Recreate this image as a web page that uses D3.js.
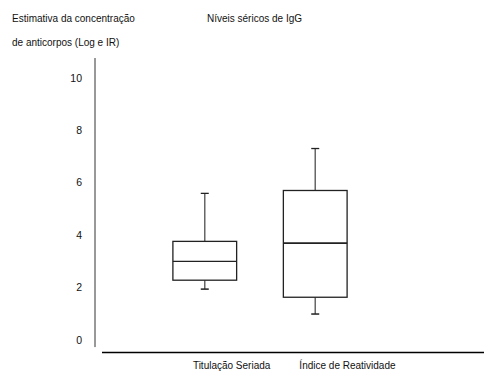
<!DOCTYPE html>
<html><head><meta charset="utf-8">
<script src="https://cdn.jsdelivr.net/npm/d3@7"></script>
<style>
body{margin:0;background:#fff;}
text{font-family:"Liberation Sans",Arial,sans-serif;fill:#111;}
</style></head>
<body><svg id="c" width="484" height="372"></svg>
<script>
const categories = ["Titulação Seriada", "Índice de Reatividade"];
const whiskerLow  = [1.94, 0.99];
const q1          = [2.28, 1.63];
const medians     = [3.00, 3.69];
const q3          = [3.76, 5.70];
const whiskerHigh = [5.59, 7.30];
const yTicks = [0, 2, 4, 6, 8, 10];

const svg = d3.select("#c");
const y = d3.scaleLinear().domain([0, 10]).range([340, 77.7]);
const x = d3.scaleBand().domain(categories).range([150.8, 369.2]).paddingInner(0.423).paddingOuter(0.2);
const bw = x.bandwidth();

// Titles
svg.append("text").attr("x", 12).attr("y", 22).attr("font-size", 10).text("Estimativa da concentração");
svg.append("text").attr("x", 12).attr("y", 46).attr("font-size", 10).text("de anticorpos (Log e IR)");
svg.append("text").attr("x", 207).attr("y", 22).attr("font-size", 10).text("Níveis séricos de IgG");

// Y axis
const yAxis = d3.axisLeft(y).tickValues(yTicks).tickSize(0).tickPadding(13).tickFormat(d3.format("d"));
const gy = svg.append("g").attr("transform", "translate(95,0)").call(yAxis);
gy.select(".domain").remove();
gy.selectAll("text").attr("font-size", 10.5).attr("font-family", "Liberation Sans, Arial, sans-serif").attr("fill", "#111");
svg.append("line").attr("x1", 95).attr("x2", 95).attr("y1", y(10.75)).attr("y2", y(-0.27))
  .attr("stroke", "#333").attr("stroke-width", 1);

// X axis line
svg.append("line").attr("x1", 102).attr("x2", 484).attr("y1", 352.5).attr("y2", 352.5)
  .attr("stroke", "#000").attr("stroke-width", 1.3);

// X labels
const labelStart = [20, 16];
categories.forEach((c, i) => {
  svg.append("text").attr("x", x(c) + labelStart[i]).attr("y", 369).attr("font-size", 10).text(c);
});

// Boxes
categories.forEach((c, i) => {
  const x0 = x(c), cx = x0 + bw / 2;
  const g = svg.append("g");
  g.append("line").attr("x1", cx).attr("x2", cx).attr("y1", y(whiskerHigh[i])).attr("y2", y(q3[i]))
    .attr("stroke", "#666").attr("stroke-width", 1.5);
  g.append("line").attr("x1", cx).attr("x2", cx).attr("y1", y(q1[i])).attr("y2", y(whiskerLow[i]))
    .attr("stroke", "#666").attr("stroke-width", 1.5);
  g.append("line").attr("x1", cx - 4).attr("x2", cx + 4).attr("y1", y(whiskerHigh[i])).attr("y2", y(whiskerHigh[i]))
    .attr("stroke", "#222").attr("stroke-width", 1.3);
  g.append("line").attr("x1", cx - 4).attr("x2", cx + 4).attr("y1", y(whiskerLow[i])).attr("y2", y(whiskerLow[i]))
    .attr("stroke", "#222").attr("stroke-width", 1.5);
  g.append("rect").attr("x", x0).attr("width", bw).attr("y", y(q3[i])).attr("height", y(q1[i]) - y(q3[i]))
    .attr("fill", "#fff").attr("stroke", "#222").attr("stroke-width", 1.3);
  g.append("line").attr("x1", x0).attr("x2", x0 + bw).attr("y1", y(medians[i])).attr("y2", y(medians[i]))
    .attr("stroke", "#222").attr("stroke-width", i === 1 ? 1.8 : 1.2);
});
</script></body></html>
